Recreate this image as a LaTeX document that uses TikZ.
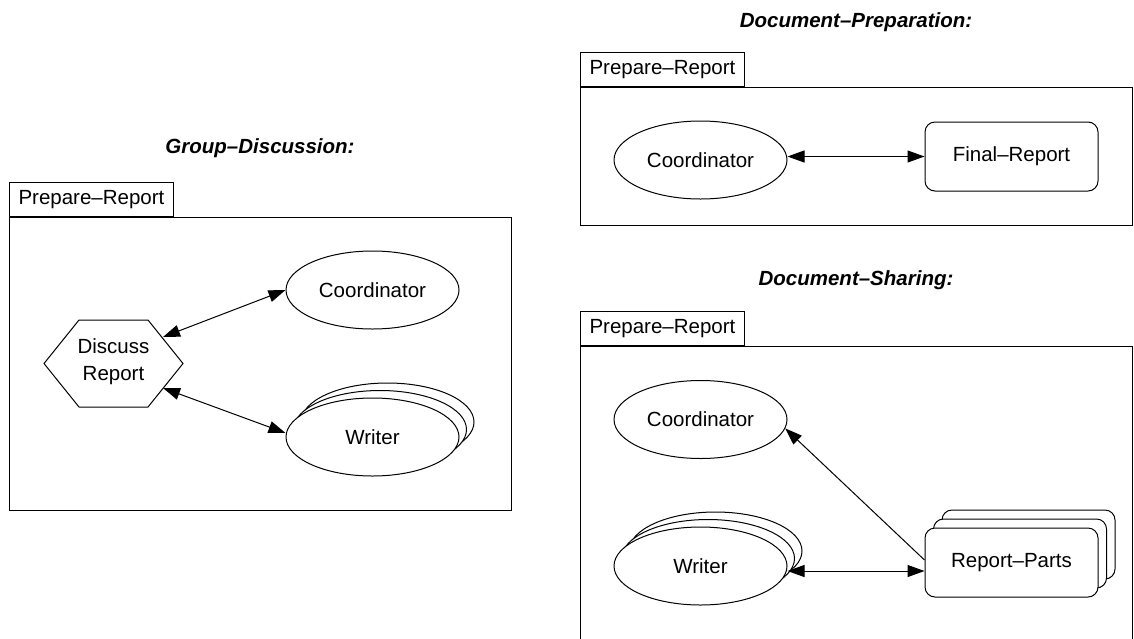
\documentclass[tikz,border=0pt]{standalone}
\usepackage{fontspec}
\setmainfont{Liberation Sans}
\usetikzlibrary{arrows.meta,calc,shapes.geometric}

\begin{document}
\begin{tikzpicture}[x=.5pt,y=-.5pt,line width=.5pt,font=\fontsize{10.25}{13.5}\selectfont,
 >={Triangle[length=8.5pt,width=6pt]},
 role/.style={ellipse,draw,fill=white,inner sep=0pt,minimum width=86.5pt,minimum height=39pt},
 artefact/.style={rectangle,draw,fill=white,rounded corners=5pt,inner sep=0pt,minimum width=86.5pt,minimum height=34.5pt},
 tabbox/.style={draw,anchor=south west,inner xsep=4.5pt,inner ysep=0pt,minimum height=17pt},
 heading/.style={font=\fontsize{10.25}{12}\selectfont\bfseries\itshape}]
\useasboundingbox (0,0) rectangle (1134,638);
% Group-Discussion
\begin{scope}
 \node[heading] (t1) at (260,148) {Group--Discussion:};
 \draw (9,217) rectangle (511,510);
 \node[tabbox] (p1) at (9,217) {Prepare--Report};
 \node[role] (co1) at (372.5,290) {Coordinator};
 \node[role] (wr1c) at (387.5,422) {};
 \node[role] (wr1b) at (380,429.5) {};
 \node[role] (wr1) at (372.5,437) {Writer};
 \draw (44,363.5)--(79,320)--(148,320)--(183,363.5)--(148,407)--(79,407)--cycle;
 \node[align=center] (dr) at (113.5,361.5) {Discuss\\Report};
 \coordinate (dr-up) at (163,337);
 \coordinate (dr-lo) at (163,388);
 \draw[<->] (dr-up) -- (co1.west);
 \draw[<->] (dr-lo) -- ($(wr1.west)+(0,-4)$);
\end{scope}
% Document-Preparation
\begin{scope}
 \node[heading] (t2) at (856,22) {Document--Preparation:};
 \draw (580,87) rectangle (1132,225);
 \node[tabbox] (p2) at (580,87) {Prepare--Report};
 \node[role] (co2) at (700.5,160) {Coordinator};
 \node[artefact] (fr) at (1011.5,156.5) {Final--Report};
 \draw[<->] (fr.west -| co2.east) -- (fr.west);
\end{scope}
% Document-Sharing
\begin{scope}
 \node[heading] (t3) at (856,280) {Document--Sharing:};
 \draw (580,640) -- (580,346) -- (1132,346) -- (1132,640);
 \node[tabbox] (p3) at (580,346) {Prepare--Report};
 \node[role] (co3) at (700.5,419.5) {Coordinator};
 \node[role] (wr2c) at (715.5,551) {};
 \node[role] (wr2b) at (708,558.5) {};
 \node[role] (wr2) at (700.5,566) {Writer};
 \node[artefact] (rpc) at (1028.5,544.5) {};
 \node[artefact] (rpb) at (1020,553.5) {};
 \node[artefact] (rp) at (1011.5,562.5) {Report--Parts};
 \draw[->] ($(rp.west)+(0,-2.5)$) -- (co3.-6);
 \draw[<->] ($(wr2.east)+(0,5)$) -- ($(rp.west)+(0,8.5)$);
\end{scope}
\end{tikzpicture}
\end{document}
